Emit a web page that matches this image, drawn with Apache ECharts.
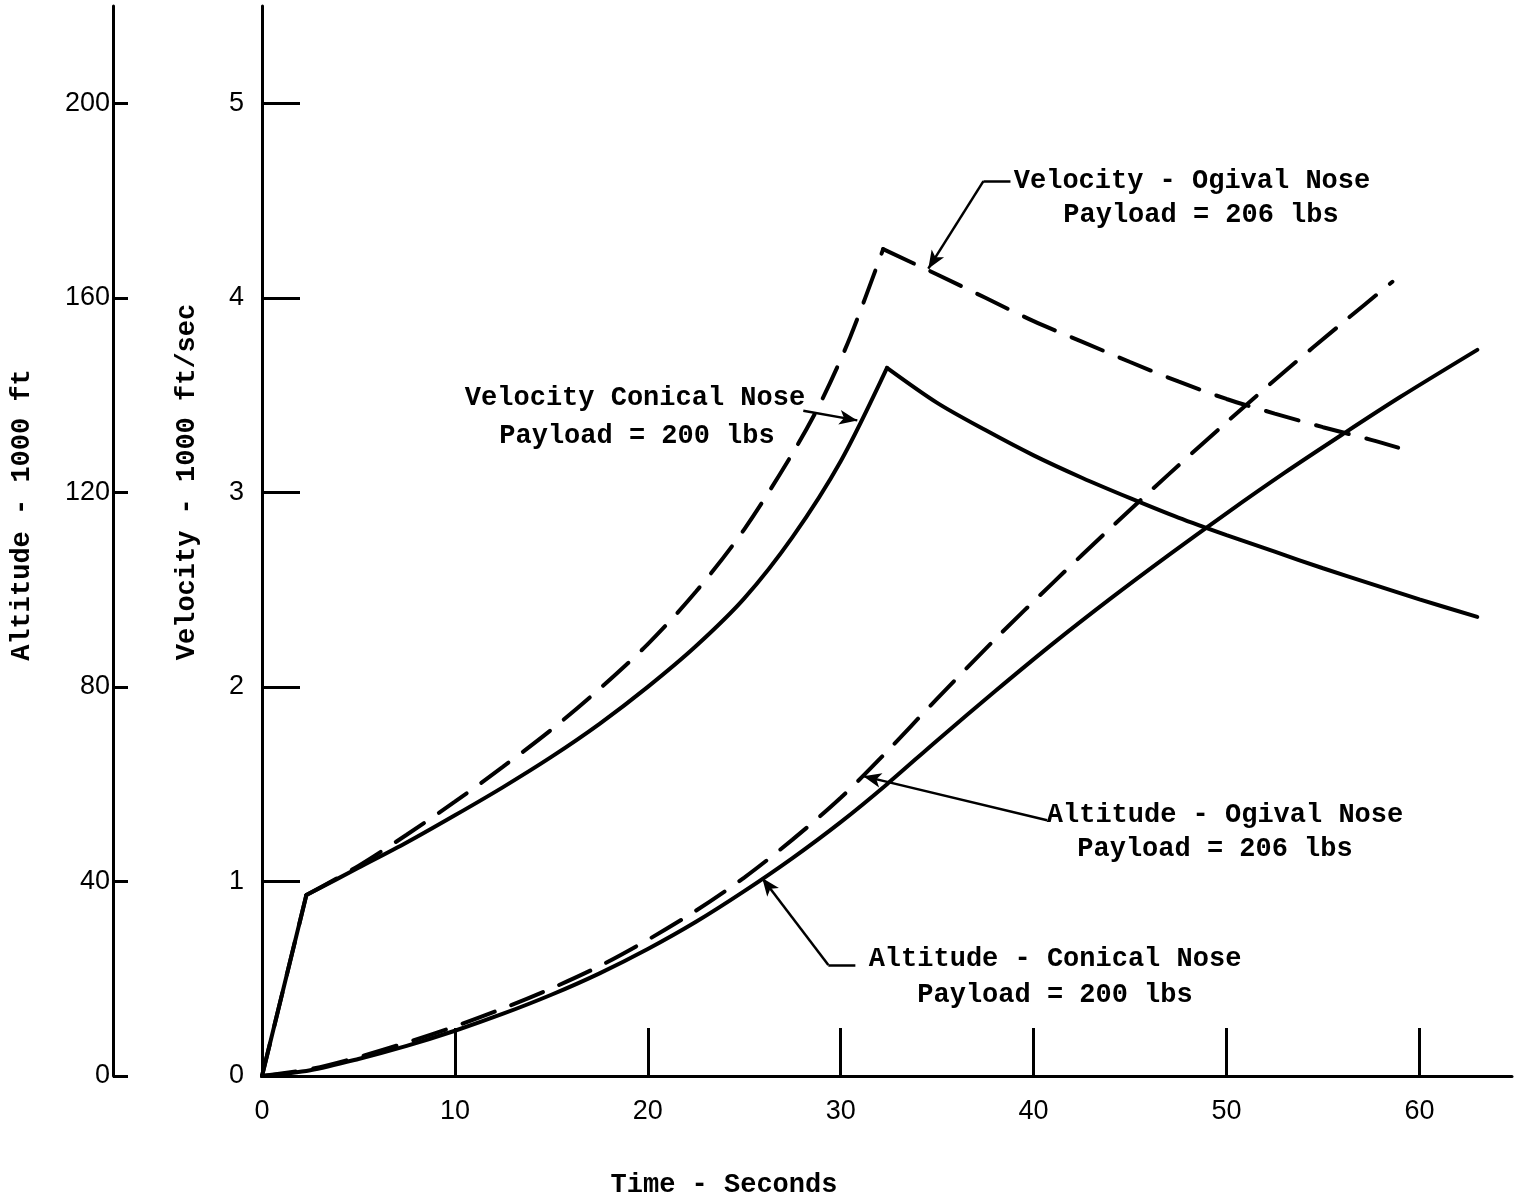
<!DOCTYPE html>
<html><head><meta charset="utf-8">
<script src="https://cdn.jsdelivr.net/npm/echarts@6/dist/echarts.min.js"></script>
<style>html,body{margin:0;padding:0;background:#fff}#c{width:1524px;height:1198px}</style>
</head><body><div id="c"></div>
<script>
// ---- tick labels ----
const timeTicks = [0, 10, 20, 30, 40, 50, 60];
const timeTickMarks = [10, 20, 30, 40, 50, 60];
const velocityTicks = [0, 1, 2, 3, 4, 5];
const altitudeTicks = [0, 40, 80, 120, 160, 200];

// ---- series values: [time s, velocity 1000 ft/s] ----
const velConicalBoost = [[0, 0], [2.3, 0.93]];
const velConicalRise = [[2.3, 0.93], [5, 1.07], [7.5, 1.2], [10, 1.34], [12.5, 1.485], [15, 1.64], [17.5, 1.81], [20, 2.0], [22.5, 2.21], [25, 2.455], [27.5, 2.77], [30, 3.16], [32.4, 3.64]];
const velConicalDecay = [[32.4, 3.64], [35, 3.46], [37.5, 3.32], [40, 3.19], [42.5, 3.075], [45, 2.97], [47.5, 2.87], [50, 2.78], [52.5, 2.695], [55, 2.61], [57.5, 2.53], [60, 2.45], [63, 2.36]];
const velOgivalBoost = [[0, 0], [2.3, 0.93]];
const velOgivalRise = [[2.3, 0.93], [5, 1.08], [7.5, 1.24], [10, 1.41], [12.5, 1.59], [15, 1.78], [17.5, 1.99], [20, 2.22], [22.5, 2.49], [25, 2.81], [27.5, 3.2], [29, 3.47], [30.5, 3.8], [32.2, 4.25]];
const velOgivalDecay = [[32.2, 4.25], [35, 4.12], [37.5, 4.0], [40, 3.88], [42.5, 3.775], [45, 3.67], [47.5, 3.57], [50, 3.48], [52.5, 3.405], [55, 3.335], [57.5, 3.27], [58.9, 3.23]];

// ---- series values: [time s, altitude 1000 ft] ----
const altConical = [[0, 0], [2.5, 1.2], [5, 3.5], [7.5, 6.2], [10, 9.3], [12.5, 12.8], [15, 16.7], [17.5, 21.1], [20, 26.1], [22.5, 31.7], [25, 38], [27.5, 44.8], [30, 52.2], [32.4, 60], [35, 69], [38, 79.1], [41, 88.9], [44, 98.2], [47, 107.1], [50, 115.7], [53, 124], [56, 131.9], [59, 139.6], [63, 149.3]];
const altOgival = [[0, 0], [2.5, 1.4], [5, 3.9], [7.5, 6.9], [10, 10.2], [12.5, 13.9], [15, 18], [17.5, 22.6], [20, 28], [22.5, 34], [25, 40.8], [27.5, 48.6], [30, 57.2], [32.2, 65.9], [35, 77.6], [38, 89.8], [41, 101.4], [44, 112.7], [47, 123.7], [50, 134.4], [53, 144.8], [56, 154.8], [58.6, 163.3]];

// ---- annotation leaders (data units) ----
const velLeaders = [
  [[38.8, 4.6], [37.4, 4.6], false],
  [[37.4, 4.6], [34.54, 4.15], true],
  [[28.06, 3.42], [30.86, 3.37], true]
];
const altLeaders = [
  [[40.7, 52.6], [31.17, 61.65], true],
  [[30.76, 22.8], [29.36, 22.8], false],
  [[29.36, 22.8], [25.93, 40.7], true]
];
const notes = [
  ['Velocity - Ogival Nose', 1192, 181],
  ['Payload = 206 lbs', 1201, 215],
  ['Velocity Conical Nose', 635, 398],
  ['Payload = 200 lbs', 637, 436],
  ['Altitude - Ogival Nose', 1225, 815],
  ['Payload = 206 lbs', 1215, 849],
  ['Altitude - Conical Nose', 1055, 959],
  ['Payload = 200 lbs', 1055, 995]
];

const TYPE = '"Liberation Mono", "DejaVu Sans Mono", monospace';
const HAND = '"Liberation Sans", "DejaVu Sans", sans-serif';
const DASH = [34, 18];

function leaderData(list) {
  return list.map(function (l) {
    return [{ coord: l[0], symbol: 'none' }, { coord: l[1], symbol: l[2] ? 'arrow' : 'none' }];
  });
}
function lineSeries(data, yIdx, dashed, extra) {
  return Object.assign({
    type: 'line', data: data, yAxisIndex: yIdx, showSymbol: false, smooth: 0.3,
    lineStyle: { color: '#000', width: 4, type: dashed ? DASH : 'solid', cap: 'round' },
    silent: true, z: dashed ? 3 : 2
  }, extra || {});
}
function markLines(list) {
  return {
    markLine: {
      silent: true, animation: false, symbolSize: [11, 18],
      label: { show: false },
      lineStyle: { color: '#000', width: 2.5, type: 'solid' },
      emphasis: { disabled: true },
      data: leaderData(list)
    }
  };
}
function txt(s, x, y, rot) {
  return { type: 'text', x: x, y: y, rotation: rot || 0,
    style: { text: s, font: 'bold 27px ' + TYPE, fill: '#000', textAlign: 'center', textVerticalAlign: 'middle' } };
}

const chart = echarts.init(document.getElementById('c'), null, { renderer: 'canvas' });
const graphics = notes.map(function (n) { return txt(n[0], n[1], n[2]); });
graphics.push(txt('Time - Seconds', 724, 1185));
graphics.push(txt('Altitude - 1000 ft', 22, 515, Math.PI / 2));
graphics.push(txt('Velocity - 1000 ft/sec', 187, 482, Math.PI / 2));

chart.setOption({
  animation: false,
  backgroundColor: '#fff',
  grid: { left: 262, right: 12, top: 6, bottom: 122, containLabel: false },
  xAxis: {
    type: 'value', min: 0, max: 64.8,
    axisLine: { show: true, onZero: false, lineStyle: { color: '#000', width: 3 } },
    axisTick: { show: true, inside: true, length: 48, customValues: timeTickMarks, lineStyle: { color: '#000', width: 3 } },
    axisLabel: { customValues: timeTicks, margin: 22, fontSize: 27, color: '#000', fontFamily: HAND },
    splitLine: { show: false }
  },
  yAxis: [
    {
      type: 'value', min: 0, max: 5.5, position: 'left',
      axisLine: { show: true, onZero: false, lineStyle: { color: '#000', width: 3 } },
      axisTick: { show: true, inside: true, length: 38, customValues: velocityTicks, lineStyle: { color: '#000', width: 3 } },
      axisLabel: { customValues: velocityTicks, margin: 18, fontSize: 27, color: '#000', fontFamily: HAND },
      splitLine: { show: false }
    },
    {
      type: 'value', min: 0, max: 220, position: 'left', offset: 149,
      axisLine: { show: true, onZero: false, lineStyle: { color: '#000', width: 3 } },
      axisTick: { show: true, inside: true, length: 15, customValues: altitudeTicks, lineStyle: { color: '#000', width: 3 } },
      axisLabel: { customValues: altitudeTicks, margin: 3, fontSize: 27, color: '#000', fontFamily: HAND },
      splitLine: { show: false }
    }
  ],
  graphic: graphics,
  series: [
    lineSeries(velConicalBoost, 0, false),
    lineSeries(velConicalRise, 0, false, markLines(velLeaders)),
    lineSeries(velConicalDecay, 0, false),
    lineSeries(velOgivalBoost, 0, true),
    lineSeries(velOgivalRise, 0, true),
    lineSeries(velOgivalDecay, 0, true),
    lineSeries(altConical, 1, false, markLines(altLeaders)),
    lineSeries(altOgival, 1, true)
  ]
});
</script>
</body></html>
